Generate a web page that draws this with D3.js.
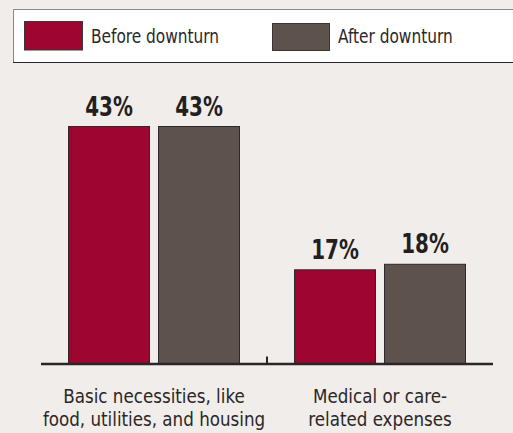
<!DOCTYPE html>
<html><head><meta charset="utf-8">
<script src="https://cdn.jsdelivr.net/npm/d3@7"></script>
<style>
html,body{margin:0;padding:0;background:#f1edea;}
svg{display:block;}
</style></head>
<body>
<svg id="chart" width="513" height="433"></svg>
<script>
const categories = [["Basic necessities, like","food, utilities, and housing"],["Medical or care-","related expenses"]];
const categoryKeys = ["basic","medical"];
const seriesNames = ["Before downturn","After downturn"];
const beforeValues = [43, 17];
const afterValues = [43, 18];
const valueLabels = [["43%","43%"],["17%","18%"]];
const colors = ["#9e0631","#5e524d"];

const svg = d3.select("#chart");
const W = 513, H = 433;
svg.append("rect").attr("width",W).attr("height",H).attr("fill","#f1edea");

const x0 = d3.scaleBand().domain(categoryKeys).range([41,493]).padding(0);
const x1 = d3.scaleBand().domain(seriesNames).range([0,x0.bandwidth()]).paddingInner(0.089).paddingOuter(0.3);
const y = d3.scaleLinear().domain([0,43]).range([363.5,126.5]);

const font = "'Liberation Sans Narrow','DejaVu Sans Condensed','Arial Narrow',sans-serif";

// legend
const lg = svg.append("g");
lg.append("rect").attr("x",13.5).attr("y",9.5).attr("width",520).attr("height",53)
  .attr("fill","#ffffff").attr("stroke","none");
lg.append("line").attr("x1",13.5).attr("x2",513).attr("y1",9.5).attr("y2",9.5).attr("stroke","#8a8685").attr("stroke-width",1);
lg.append("line").attr("x1",13.5).attr("x2",13.5).attr("y1",9.5).attr("y2",62.5).attr("stroke","#8a8685").attr("stroke-width",1);
lg.append("line").attr("x1",13).attr("x2",513).attr("y1",62.5).attr("y2",62.5).attr("stroke","#2a2526").attr("stroke-width",1.2);
const legendItems = [{x:24.5,y:21.5,w:58,h:28.5,tx:91},{x:272.5,y:23.5,w:57,h:27,tx:338}];
seriesNames.forEach((s,i)=>{
  const it = legendItems[i];
  lg.append("rect").attr("x",it.x).attr("y",it.y).attr("width",it.w).attr("height",it.h)
    .attr("fill",colors[i]).attr("stroke","#3a3435").attr("stroke-width",1);
  lg.append("text").attr("transform",`translate(${it.tx},43) scale(0.9,1)`).attr("font-family",font).attr("font-size",19)
    .attr("fill","#2b2728").text(s);
});

// bars
const data = categoryKeys.map((k,i)=>({key:k, vals:[beforeValues[i],afterValues[i]], labels:valueLabels[i]}));
const groups = svg.append("g").selectAll("g").data(data).join("g")
  .attr("transform",d=>`translate(${x0(d.key)},0)`);
groups.selectAll("rect").data(d=>d.vals.map((v,i)=>({s:seriesNames[i],v,i}))).join("rect")
  .attr("x",d=>x1(d.s)+0.5).attr("y",d=>y(d.v)).attr("width",x1.bandwidth()-1).attr("height",d=>y(0)-y(d.v))
  .attr("fill",d=>colors[d.i]).attr("stroke","#2e292a").attr("stroke-width",1);
groups.selectAll("text.val").data(d=>d.vals.map((v,i)=>({s:seriesNames[i],v,lab:d.labels[i]}))).join("text")
  .attr("class","val")
  .attr("transform",d=>`translate(${x1(d.s)+x1.bandwidth()/2},${y(d.v)-11}) scale(0.82,1)`)
  .attr("text-anchor","middle").attr("font-family",font).attr("font-weight","bold").attr("font-size",27)
  .attr("fill","#231f20").text(d=>d.lab);

// axis
svg.append("line").attr("x1",41).attr("x2",493).attr("y1",y(0)+0.5).attr("y2",y(0)+0.5)
  .attr("stroke","#2a2526").attr("stroke-width",2.5);
svg.append("line").attr("x1",x0("medical")).attr("x2",x0("medical")).attr("y1",y(0)-7).attr("y2",y(0))
  .attr("stroke","#2a2526").attr("stroke-width",2);

// category labels
data.forEach((d,i)=>{
  const cx = x0(d.key)+x0.bandwidth()/2;
  categories[i].forEach((line,j)=>{
    svg.append("text").attr("transform",`translate(${cx},${403+23*j}) scale(0.93,1)`)
      .attr("text-anchor","middle").attr("font-family",font).attr("font-size",20).attr("fill","#2b2728").text(line);
  });
});
</script>
</body></html>
